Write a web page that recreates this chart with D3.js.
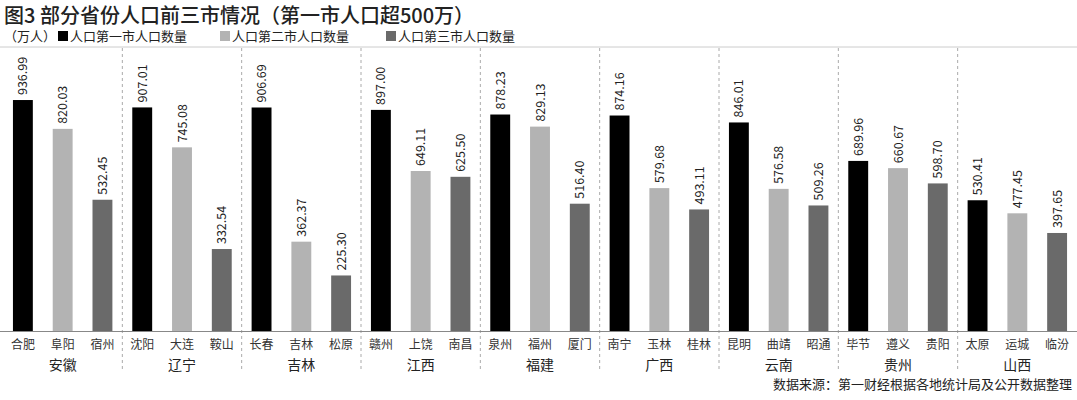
<!DOCTYPE html><html><head><meta charset="utf-8"><script src="https://cdn.jsdelivr.net/npm/d3@7"></script>
<style>body{margin:0;background:#fff}text{font-family:"Noto Sans CJK SC",sans-serif}</style></head><body><svg id="c" width="1077" height="400"></svg><script>
const provinces=["安徽","辽宁","吉林","江西","福建","广西","云南","贵州","山西"];
const cities=[["合肥","阜阳","宿州"],["沈阳","大连","鞍山"],["长春","吉林","松原"],["赣州","上饶","南昌"],["泉州","福州","厦门"],["南宁","玉林","桂林"],["昆明","曲靖","昭通"],["毕节","遵义","贵阳"],["太原","运城","临汾"]];
const first=[936.99,907.01,906.69,897.00,878.23,874.16,846.01,689.96,530.41];
const second=[820.03,745.08,362.37,649.11,829.13,579.68,576.58,660.67,477.45];
const third=[532.45,332.54,225.30,625.50,516.40,493.11,509.26,598.70,397.65];
const seriesNames=["人口第一市人口数量","人口第二市人口数量","人口第三市人口数量"];
const colors=["#000000","#b3b3b3","#6a6a6a"];
const svg=d3.select("#c");
svg.append("text").attr("x",4).attr("y",23).attr("font-size",20).attr("font-weight",500).attr("fill","#222").text("图3 部分省份人口前三市情况（第一市人口超500万）");
svg.append("text").attr("x",4).attr("y",41).attr("font-size",13).attr("fill","#222").text("（万人）");
const lx=[58,220,386];
seriesNames.forEach((n,i)=>{svg.append("rect").attr("x",lx[i]).attr("y",31).attr("width",10).attr("height",10).attr("fill",colors[i]);
svg.append("text").attr("x",lx[i]+12).attr("y",41).attr("font-size",13).attr("fill","#222").text(n);});
svg.append("line").attr("x1",0).attr("x2",1077).attr("y1",47).attr("y2",47).attr("stroke","#ccc");
const x0=d3.scaleBand().domain(provinces).range([3,1077]);
const x1=d3.scaleBand().domain([0,1,2]).range([0,x0.bandwidth()]).paddingInner(0.5).paddingOuter(0.25);
const y=d3.scaleLinear().domain([0,1000]).range([331,84.5]);
const vals=[first,second,third];
provinces.forEach((p,gi)=>{
 const g=svg.append("g").attr("transform",`translate(${x0(p)},0)`);
 [0,1,2].forEach(si=>{
  const v=vals[si][gi],bx=x1(si),cx=bx+x1.bandwidth()/2;
  g.append("rect").attr("x",bx).attr("y",y(v)).attr("width",x1.bandwidth()).attr("height",y(0)-y(v)).attr("fill",colors[si]);
  g.append("text").attr("transform",`translate(${cx+4.5},${y(v)-5}) rotate(-90)`).attr("font-size",12.5).attr("fill","#222").text(v.toFixed(2));
  g.append("text").attr("x",cx).attr("y",349).attr("text-anchor","middle").attr("font-size",12).attr("fill","#333").text(cities[gi][si]);
 });
 g.append("text").attr("x",x0.bandwidth()/2).attr("y",370).attr("text-anchor","middle").attr("font-size",14).attr("fill","#222").text(p);
 if(gi>0) svg.append("line").attr("x1",x0(p)).attr("x2",x0(p)).attr("y1",48).attr("y2",372).attr("stroke","#aaa").attr("stroke-dasharray","3,3");
});
svg.append("line").attr("x1",0).attr("x2",1077).attr("y1",331.5).attr("y2",331.5).attr("stroke","#888");
svg.append("text").attr("x",1072).attr("y",389).attr("text-anchor","end").attr("font-size",13).attr("fill","#222").text("数据来源：第一财经根据各地统计局及公开数据整理");
</script></body></html>
